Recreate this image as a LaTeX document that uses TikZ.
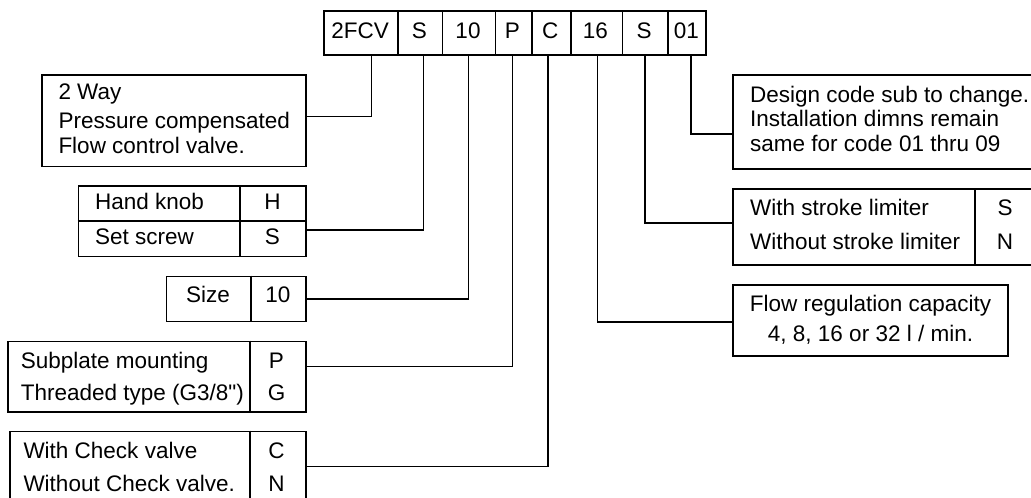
\documentclass[tikz,border=0pt]{standalone}
\usepackage{fontspec}
\setmainfont{Liberation Sans}[Ligatures=TeXOff]
\begin{document}
\begin{tikzpicture}[x=1pt,y=-1pt,
  box/.style={draw, rectangle, anchor=north west, inner sep=0pt, line width=1.6pt},
  txt/.style={inner sep=0pt, font=\fontsize{22.5}{27}\selectfont},
  lt/.style={txt, anchor=base west},
  ct/.style={txt, anchor=base},
  conn/.style={draw, line width=1.4pt},
  divider/.style={draw, line width=1.6pt}]
\useasboundingbox (0,0) rectangle (1031,498);
\clip (0,0) rectangle (1031,498);
% ---- code cells ----
\node[box, minimum width=73.7pt, minimum height=44pt] (c1) at (323.3,10) {};
\node[box, minimum width=44.7pt, minimum height=44pt] (c2) at (397,10) {};
\node[box, minimum width=52.8pt, minimum height=44pt] (c3) at (441.7,10) {};
\node[box, minimum width=36.5pt, minimum height=44pt] (c4) at (494.5,10) {};
\node[box, minimum width=39pt, minimum height=44pt] (c5) at (531,10) {};
\node[box, minimum width=51.5pt, minimum height=44pt] (c6) at (570,10) {};
\node[box, minimum width=45.5pt, minimum height=44pt] (c7) at (621.5,10) {};
\node[box, minimum width=38pt, minimum height=44pt] (c8) at (667,10) {};
\node[ct] (c1t) at (360.1,38.3) {2FCV};
\node[ct] (c2t) at (419.3,38.3) {S};
\node[ct] (c3t) at (468,38.3) {10};
\node[ct] (c4t) at (512.3,38.3) {P};
\node[ct] (c5t) at (550.3,38.3) {C};
\node[ct] (c6t) at (595.3,38.3) {16};
\node[ct] (c7t) at (644,38.3) {S};
\node[ct] (c8t) at (686.3,38.3) {01};
% ---- left boxes ----
\node[box, minimum width=264pt, minimum height=91.4pt] (type) at (41,74.3) {};
\node[lt] (typea) at (58.3,99.3) {2 Way};
\node[lt] (typeb) at (58.3,128.3) {Pressure compensated};
\node[lt] (typec) at (58.3,153.3) {Flow control valve.};

\node[box, minimum width=227.3pt, minimum height=70.7pt] (hk) at (77.7,185) {};
\draw[divider] (77.7,220.7) -- (305,220.7);
\draw[divider] (240,185) -- (240,255.7);
\node[lt] (hka) at (95,209.3) {Hand knob};
\node[lt] (hkb) at (95,244) {Set screw};
\node[ct] (hkc) at (272.5,209.3) {H};
\node[ct] (hkd) at (272.5,244) {S};

\node[box, minimum width=139.3pt, minimum height=45pt] (size) at (165.7,275.7) {};
\draw[divider] (250.7,275.7) -- (250.7,320.7);
\node[ct] (sizea) at (208,302.7) {Size};
\node[ct] (sizeb) at (278,302.7) {10};

\node[box, minimum width=297.7pt, minimum height=70.3pt] (sub) at (7.3,340.7) {};
\draw[divider] (250,340.7) -- (250,411);
\node[lt] (suba) at (20.7,368.3) {Subplate mounting};
\node[lt] (subb) at (20.7,400) {Threaded type (G3/8")};
\node[ct] (subc) at (276.5,368.3) {P};
\node[ct] (subd) at (276.5,400) {G};

\node[box, minimum width=295.7pt, minimum height=70.3pt] (chk) at (9.3,430.7) {};
\draw[divider] (250,430.7) -- (250,501);
\node[lt] (chka) at (23.3,458.3) {With Check valve};
\node[lt] (chkb) at (23.3,491.7) {Without Check valve.};
\node[ct] (chkc) at (276.5,458.3) {C};
\node[ct] (chkd) at (276.5,491.7) {N};
% ---- right boxes ----
\node[box, minimum width=310pt, minimum height=94pt] (des) at (732.3,74.3) {};
\node[lt] (desa) at (750,102.3) {Design code sub to change.};
\node[lt] (desb) at (750,126) {Installation dimns remain};
\node[lt] (desc) at (750,151.7) {same for code 01 thru 09};

\node[box, minimum width=302.7pt, minimum height=76pt] (stk) at (732.3,188.3) {};
\draw[divider] (975,188.3) -- (975,264.3);
\node[lt] (stka) at (750,215.7) {With stroke limiter};
\node[lt] (stkb) at (750,249) {Without stroke limiter};
\node[ct] (stkc) at (1005,215.7) {S};
\node[ct] (stkd) at (1005,249) {N};

\node[box, minimum width=275pt, minimum height=70.7pt] (flow) at (732.3,284.3) {};
\node[ct] (flowa) at (870.5,311.7) {Flow regulation capacity};
\node[ct] (flowb) at (870.5,341) {4, 8, 16 or 32 l / min.};
% ---- connectors ----
\draw[conn] ([yshift=4.3pt]type.east) -| ([xshift=10.6pt]c1.south);
\draw[conn] ([yshift=-8.95pt]hk.east) -| ([xshift=3.35pt]c2.south);
\draw[conn] (size.east) -| ([xshift=-0.4pt]c3.south);
\draw[conn] ([yshift=10.15pt]sub.east) -| ([xshift=-1pt]c4.south);
\draw[conn] (chk.east) -| ([xshift=-3.2pt]c5.south);
\draw[conn] ([yshift=-1.35pt]flow.west) -| ([xshift=0.7pt]c6.south);
\draw[conn] ([yshift=4pt]stk.west) -| ([xshift=-0.25pt]c7.south);
\draw[conn] ([yshift=-12pt]des.west) -| ([xshift=4pt]c8.south);
\end{tikzpicture}
\end{document}
